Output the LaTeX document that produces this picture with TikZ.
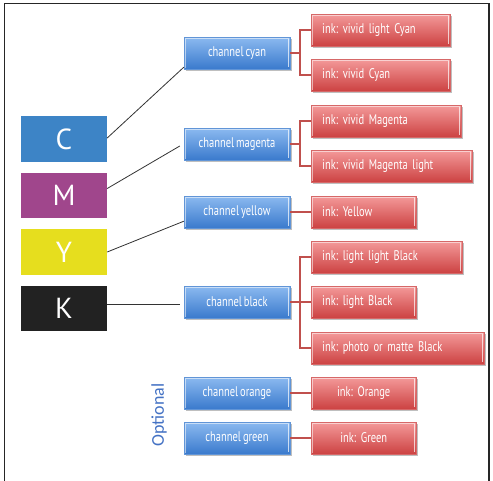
\documentclass[tikz,border=0pt]{standalone}
\usepackage{fontspec}
\newfontfamily\boxfont[FakeStretch=0.75,WordSpace=0.7]{PT Sans}
\newfontfamily\letterfont{PT Sans}
\newfontfamily\labelfont{Carlito}
\usetikzlibrary{shadows,calc}
\frenchspacing

\definecolor{cyanbox}{HTML}{3D84C6}
\definecolor{magbox}{HTML}{A0468C}
\definecolor{yelbox}{HTML}{E6DE1E}
\definecolor{blkbox}{HTML}{222222}
\definecolor{chtop}{HTML}{8CBAF0}
\definecolor{chbot}{HTML}{3A7ACD}
\definecolor{inktop}{HTML}{F49A9A}
\definecolor{inkbot}{HTML}{CC4242}
\definecolor{branch}{HTML}{C0504D}
\definecolor{optblue}{HTML}{4472C4}

\tikzset{
  bevel/.style={
    path picture={
      \draw[white,opacity=0.55,line width=1.4pt]
        ([xshift=1pt,yshift=1pt]path picture bounding box.south west)
        -- ([xshift=1pt,yshift=-1pt]path picture bounding box.north west)
        -- ([xshift=-1pt,yshift=-1pt]path picture bounding box.north east);
      \draw[white,opacity=0.7,line width=1.2pt]
        ([xshift=-1.5pt,yshift=-2pt]path picture bounding box.north east)
        -- ([xshift=-1.5pt,yshift=2pt]path picture bounding box.south east);
    }},
  boxshadow/.style={general shadow={fill=black,opacity=0.25,shadow xshift=1.5pt,shadow yshift=-1.5pt}},
  letterbox/.style={rectangle, minimum width=86pt, inner sep=0pt,
    text=white, font=\letterfont\fontsize{29}{32}\selectfont},
  chanbox/.style={rectangle, minimum width=106pt, minimum height=32pt, inner sep=0pt,
    top color=chtop, bottom color=chbot, draw=chbot!80!white, line width=0.4pt,
    boxshadow, bevel, text=white, font=\boxfont\fontsize{14}{16}\selectfont},
  inkbox/.style={rectangle, minimum height=32pt, inner ysep=0pt, inner xsep=11pt,
    top color=inktop, bottom color=inkbot, draw=inkbot!80!white, line width=0.4pt,
    boxshadow, bevel, text=white, font=\boxfont\fontsize{14}{16}\selectfont,
    anchor=west},
  inkleft/.style={inkbox, align=left, text width=#1},
  inkmid/.style={inkbox, align=center, text width=#1},
  tie/.style={draw=black!80, line width=0.8pt},
  fork/.style={draw=branch, line width=2pt},
}

\begin{document}
\begin{tikzpicture}[x=1pt,y=-1pt]
\useasboundingbox (0,0) rectangle (493,480);
\fill[white] (0,0) rectangle (493,480);
% outer frame, open at the bottom
\draw[black!85, line width=1.5pt] (4.5,481) -- (4.5,3.5) -- (489,3.5) -- (489,481);

% process colour blocks
\node[letterbox, fill=cyanbox, minimum height=46pt] (C) at (64,139) {C};
\node[letterbox, fill=magbox, minimum height=45pt] (M) at (64,195.5) {M};
\node[letterbox, fill=yelbox, minimum height=46pt] (Y) at (64,252) {Y};
\node[letterbox, fill=blkbox, minimum height=45pt] (K) at (64,308.5) {K};

% channels
\node[chanbox] (chc) at (237,53) {channel cyan};
\node[chanbox] (chm) at (237,144) {channel magenta};
\node[chanbox] (chy) at (237,212) {channel yellow};
\node[chanbox] (chk) at (237,302) {channel black};
\node[chanbox] (cho) at (237,393) {channel orange};
\node[chanbox] (chg) at (237,438) {channel green};

% inks
\node[inkleft=117pt] (i1) at (311,30) {ink: vivid light Cyan};
\node[inkleft=117pt] (i2) at (311,75) {ink: vivid Cyan};
\node[inkleft=128pt] (i3) at (311,121) {ink: vivid Magenta};
\node[inkleft=139pt] (i4) at (311,166) {ink: vivid Magenta light};
\node[inkleft=83pt] (i5) at (311,212) {ink: Yellow};
\node[inkleft=129pt] (i6) at (311,257) {ink: light light Black};
\node[inkleft=83pt] (i7) at (311,302) {ink: light Black};
\node[inkleft=151pt] (i8) at (311,348) {ink: photo or matte Black};
\node[inkmid=83pt] (i9) at (311,393) {ink: Orange};
\node[inkmid=83pt] (i10) at (311,438) {ink: Green};

% links from colour blocks to channels
\draw[tie] ($(C.east)+(0,-1)$) -- ($(chc.south west)+(0,-2)$);
\draw[tie] ($(M.east)+(0,-7)$) -- ($(chm.west)+(-4,2)$);
\draw[tie] (Y.east) -- ($(chy.south west)+(0,-7)$);
\draw[tie] ($(K.east)+(0,-4.5)$) -- ($(chk.west)+(-4,2)$);

% forks from channels to inks
\coordinate (sc) at ($(chc.east)+(10,0)$);
\draw[fork] (chc.east) -- (sc);
\draw[fork] (i1.west) -- (i1.west -| sc) -- (i2.west -| sc) -- (i2.west);
\coordinate (sm) at ($(chm.east)+(10,0)$);
\draw[fork] (chm.east) -- (sm);
\draw[fork] (i3.west) -- (i3.west -| sm) -- (i4.west -| sm) -- (i4.west);
\draw[fork] (chy.east) -- (i5.west);
\coordinate (sk) at ($(chk.east)+(10,0)$);
\draw[fork] (chk.east) -- (i7.west);
\draw[fork] (i6.west) -- (i6.west -| sk) -- (i8.west -| sk) -- (i8.west);
\draw[fork] (cho.east) -- (i9.west);
\draw[fork] (chg.east) -- (i10.west);

% optional group label
\node[rotate=90, text=optblue, font=\labelfont\fontsize{18}{20}\selectfont, inner sep=0pt] (opt) at (159,415) {Optional};
\end{tikzpicture}
\end{document}
